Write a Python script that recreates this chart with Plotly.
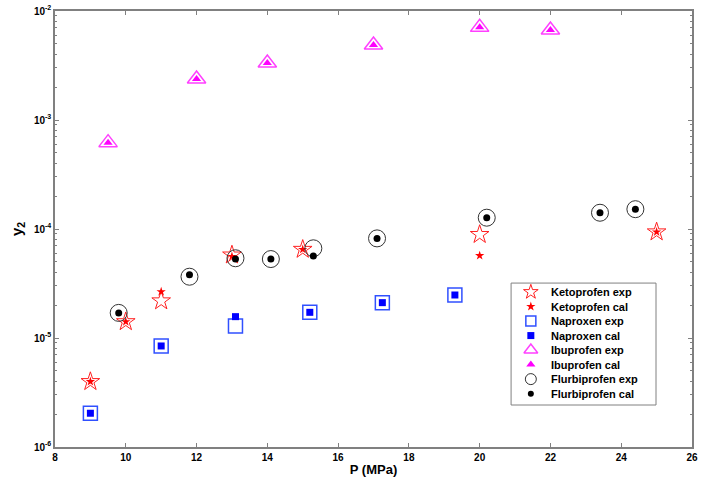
import plotly.graph_objects as go

# Ketoprofen
keto_exp_x = [9, 10, 11, 13, 15, 20, 25]
keto_exp_y = [3.98e-6, 1.41e-5, 2.19e-5, 5.77e-5, 6.5e-5, 8.9e-5, 9.4e-5]
keto_cal_x = [9, 10, 11, 13, 15, 20, 25]
keto_cal_y = [3.98e-6, 1.41e-5, 2.66e-5, 5.6e-5, 6.5e-5, 5.7e-5, 9.4e-5]
# Naproxen
nap_exp_x = [9.0, 11.0, 13.1, 15.2, 17.25, 19.3]
nap_exp_y = [2.04e-6, 8.45e-6, 1.29e-5, 1.72e-5, 2.11e-5, 2.48e-5]
nap_cal_x = [9.0, 11.0, 13.1, 15.2, 17.25, 19.3]
nap_cal_y = [2.04e-6, 8.45e-6, 1.57e-5, 1.72e-5, 2.11e-5, 2.48e-5]
# Ibuprofen
ibu_exp_x = [9.5, 12, 14, 17, 20, 22]
ibu_exp_y = [6.2e-4, 2.38e-3, 3.33e-3, 4.88e-3, 7.08e-3, 6.7e-3]
ibu_cal_x = [9.5, 12, 14, 17, 20, 22]
ibu_cal_y = [6.2e-4, 2.38e-3, 3.33e-3, 4.88e-3, 7.08e-3, 6.7e-3]
# Flurbiprofen
flu_exp_x = [9.8, 11.8, 13.1, 14.1, 15.3, 17.1, 20.2, 23.4, 24.4]
flu_exp_y = [1.7e-5, 3.65e-5, 5.39e-5, 5.3e-5, 6.65e-5, 8.2e-5, 1.27e-4, 1.41e-4, 1.52e-4]
flu_cal_x = [9.8, 11.8, 13.1, 14.1, 15.3, 17.1, 20.2, 23.4, 24.4]
flu_cal_y = [1.7e-5, 3.8e-5, 5.3e-5, 5.3e-5, 5.66e-5, 8.2e-5, 1.27e-4, 1.41e-4, 1.52e-4]

x_ticks = [8, 10, 12, 14, 16, 18, 20, 22, 24, 26]
y_ticks = [1e-6, 1e-5, 1e-4, 1e-3, 1e-2]
y_ticktext = ["10<sup>-6</sup>", "10<sup>-5</sup>", "10<sup>-4</sup>", "10<sup>-3</sup>", "10<sup>-2</sup>"]

legend_labels = ["Ketoprofen exp", "Ketoprofen cal", "Naproxen exp", "Naproxen cal",
                 "Ibuprofen exp", "Ibuprofen cal", "Flurbiprofen exp", "Flurbiprofen cal"]

series = [
    (keto_exp_x, keto_exp_y, "star-open", "#ff2020", 14, 1.0, 11),
    (keto_cal_x, keto_cal_y, "star", "#ff0000", 7, 0, 7),
    (nap_exp_x, nap_exp_y, "square-open", "#3050ff", 14, 1.5, 10),
    (nap_cal_x, nap_cal_y, "square", "#0000ff", 7, 0, 7),
    (ibu_exp_x, ibu_exp_y, "triangle-up-open", "#ff40ff", 16, 1.5, 12),
    (ibu_cal_x, ibu_cal_y, "triangle-up", "#ff00ff", 8, 0, 8),
    (flu_exp_x, flu_exp_y, "circle-open", "#333333", 17, 1.0, 11),
    (flu_cal_x, flu_cal_y, "circle", "#000000", 7, 0, 6),
]

fig = go.Figure()

for (x, y, sym, col, sz, lw, lsz), name in zip(series, legend_labels):
    fig.add_trace(go.Scatter(x=x, y=y, mode="markers", name=name, showlegend=False,
                             marker=dict(symbol=sym, color=col, size=sz,
                                         line=dict(color=col, width=lw))))

# custom legend (paper-fraction positions of the plot area)
leg_left, leg_right, leg_top, leg_bottom = 0.716, 0.9435, 0.376, 0.0963
leg_mark_x = 0.747
leg_text_x = 0.775
leg_y0 = 0.3555
leg_dy = 0.0333

axis_col = "#808080"

fig.add_shape(type="rect", xref="paper", yref="paper",
              x0=leg_left, x1=leg_right, y0=leg_bottom, y1=leg_top,
              line=dict(color=axis_col, width=1), fillcolor="white", layer="below")

for i, ((x, y, sym, col, sz, lw, lsz), name) in enumerate(zip(series, legend_labels)):
    yy = leg_y0 - i * leg_dy
    fig.add_trace(go.Scatter(x=[leg_mark_x], y=[yy], xaxis="x2", yaxis="y2",
                             mode="markers", showlegend=False, hoverinfo="skip",
                             marker=dict(symbol=sym, color=col, size=lsz,
                                         line=dict(color=col, width=lw))))
    fig.add_annotation(x=leg_text_x, y=yy, xref="paper", yref="paper",
                       text=name, showarrow=False, xanchor="left", yanchor="middle",
                       font=dict(family="Liberation Sans, Arial", size=11, color="black", weight="bold"))

minor_y = []
for d in [1e-6, 1e-5, 1e-4, 1e-3]:
    for k in range(2, 10):
        minor_y.append(k * d)

font_b = dict(family="Liberation Sans, Arial", size=10, color="black", weight="bold")

fig.update_layout(
    width=712, height=488,
    margin=dict(l=55, r=20, t=11, b=41),
    paper_bgcolor="white", plot_bgcolor="white",
    font=font_b,
    showlegend=False,
    xaxis=dict(range=[8, 26], tickvals=x_ticks, ticks="inside", ticklen=4,
               tickcolor=axis_col, showline=True, linecolor=axis_col, linewidth=1.5,
               mirror="ticks", showgrid=False, zeroline=False, automargin=False,
               tickfont=dict(family="Liberation Sans, Arial", size=10, weight="bold"),
               title=dict(text="P (MPa)", standoff=3,
                          font=dict(family="Liberation Sans, Arial", size=13, weight="bold"))),
    yaxis=dict(type="log", range=[-6, -2], tickvals=y_ticks, ticktext=y_ticktext,
               ticks="inside", ticklen=4, tickcolor=axis_col,
               showline=True, linecolor=axis_col, linewidth=1.5,
               mirror="ticks", showgrid=False, zeroline=False, automargin=False,
               tickfont=dict(family="Liberation Sans, Arial", size=10, weight="bold"),
               minor=dict(tickvals=minor_y, ticks="inside", ticklen=2, tickcolor=axis_col, showgrid=False),
               title=dict(text="y<sub>2</sub>", standoff=8,
                          font=dict(family="Liberation Sans, Arial", size=15, weight="bold"))),
    xaxis2=dict(range=[0, 1], domain=[0, 1], visible=False, overlaying="x", fixedrange=True),
    yaxis2=dict(range=[0, 1], domain=[0, 1], visible=False, overlaying="y", fixedrange=True),
)

fig.write_html("out.html", config={"displayModeBar": False},
               post_script="document.body.style.margin='0px';")
